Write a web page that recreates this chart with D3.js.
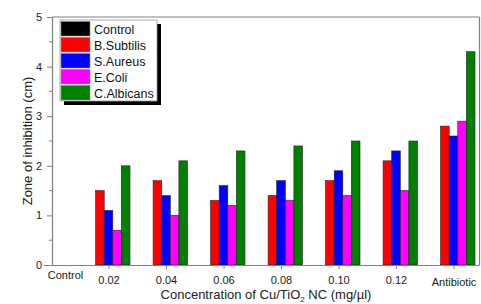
<!DOCTYPE html>
<html lang="en">
<head>
  <meta charset="UTF-8">
  <title>Zone of inhibition</title>
  <style>
    body { margin: 0; background: #fff; }
    text { font-family: Arial, "Liberation Sans", sans-serif; }
  </style>
</head>
<body>
  <svg id="svg" width="481" height="304"></svg>
  <script src="https://d3js.org/d3.v7.min.js"></script>
  <script>
    const categories = ['Control', '0.02', '0.04', '0.06', '0.08', '0.10', '0.12', 'Antibiotic']
    const seriesNames = ['Control', 'B.Subtilis', 'S.Aureus', 'E.Coli', 'C.Albicans']
    const colors = ['#000000', '#ff0000', '#0000ff', '#ff00ff', '#008000']

    const control = [0, 0, 0, 0, 0, 0, 0, 0]
    const bSubtilis = [0, 1.5, 1.7, 1.3, 1.4, 1.7, 2.1, 2.8]
    const sAureus = [0, 1.1, 1.4, 1.6, 1.7, 1.9, 2.3, 2.6]
    const eColi = [0, 0.7, 1.0, 1.2, 1.3, 1.4, 1.5, 2.9]
    const cAlbicans = [0, 2.0, 2.1, 2.3, 2.4, 2.5, 2.5, 4.3]
    const series = [control, bSubtilis, sAureus, eColi, cAlbicans]

    const yTicks = [0, 1, 2, 3, 4, 5]
    const yMinor = [0.5, 1.5, 2.5, 3.5, 4.5]

    const svg = d3.select('#svg')
    const plotL = 52, plotR = 479.5, plotT = 17, plotB = 265

    const xScale = d3.scaleLinear()
      .domain([0, 7])
      .range([51, 453.5])

    const yScale = d3.scaleLinear()
      .domain([0, 5])
      .range([plotB, plotT])

    const barW = 8.6

    // bars
    series.forEach((vals, j) => {
      svg.append('g')
        .selectAll('rect')
        .data(vals.map((v, i) => ({ v, i })).filter(d => d.v > 0))
        .enter()
        .append('rect')
        .attr('x', d => xScale(d.i) + (j - 2.5) * barW)
        .attr('y', d => yScale(d.v))
        .attr('width', barW)
        .attr('height', d => plotB - yScale(d.v))
        .attr('fill', colors[j])
        .attr('stroke', '#222')
        .attr('stroke-width', 0.6)
    })

    // frame
    const axisColor = '#808080'
    svg.append('line').attr('x1', plotL).attr('x2', plotR).attr('y1', plotT).attr('y2', plotT)
      .attr('stroke', axisColor).attr('stroke-width', 1.2)
    svg.append('line').attr('x1', plotR).attr('x2', plotR).attr('y1', plotT).attr('y2', plotB)
      .attr('stroke', axisColor).attr('stroke-width', 1.2)

    // y axis
    const yAxis = svg.append('g')
      .attr('transform', `translate(${plotL},0)`)
      .call(d3.axisLeft(yScale).tickValues(yTicks).tickFormat(d3.format('d')).tickSize(5).tickPadding(5))
    yAxis.selectAll('.tick').filter(d => d === 0).select('line').attr('x2', -8)
    svg.append('g')
      .attr('transform', `translate(${plotL},0)`)
      .selectAll('line')
      .data(yMinor)
      .enter()
      .append('line')
      .attr('x1', 0).attr('x2', -3)
      .attr('y1', d => yScale(d)).attr('y2', d => yScale(d))
      .attr('stroke', axisColor)

    // x axis
    const xAxis = svg.append('g')
      .attr('transform', `translate(0,${plotB})`)
      .call(d3.axisBottom(xScale).tickValues(d3.range(categories.length))
        .tickFormat(i => categories[i]).tickSize(4).tickPadding(6))
    xAxis.select('.domain').attr('d', `M${plotL - 8},0.5H${plotR}`)
    xAxis.selectAll('.tick').filter(i => i === 0).select('line').remove()
    xAxis.selectAll('.tick text')
      .attr('dx', i => i === 0 ? 14 : 0)
      .attr('dy', i => i === 0 ? '0.4em' : (i === 7 ? '1.0em' : '0.8em'))

    svg.selectAll('.domain').attr('stroke', axisColor).attr('stroke-width', 1.2)
    svg.selectAll('.tick line').attr('stroke', axisColor)
    svg.selectAll('.tick text').attr('font-size', 11).attr('fill', '#222')

    // axis titles
    svg.append('text')
      .attr('transform', `translate(32,${(plotT + plotB) / 2}) rotate(-90)`)
      .attr('text-anchor', 'middle')
      .attr('font-size', 13)
      .attr('fill', '#222')
      .text('Zone of inhibition (cm)')

    const xt = svg.append('text')
      .attr('x', 266)
      .attr('y', 299)
      .attr('text-anchor', 'middle')
      .attr('font-size', 13)
      .attr('fill', '#222')
    xt.append('tspan').text('Concentration of Cu/TiO')
    xt.append('tspan').attr('font-size', 8).attr('dy', 3).text('2')
    xt.append('tspan').attr('dy', -3).text(' NC (mg/µl)')

    // legend
    const lx = 60, ly = 20, lw = 97, lh = 81
    svg.append('rect').attr('x', lx + 4).attr('y', ly + 4).attr('width', lw).attr('height', lh).attr('fill', '#000')
    svg.append('rect').attr('x', lx).attr('y', ly).attr('width', lw).attr('height', lh)
      .attr('fill', '#fff').attr('stroke', '#999').attr('stroke-width', 0.8)
    const rowH = 16
    const legend = svg.append('g')
      .selectAll('g')
      .data(seriesNames)
      .enter()
      .append('g')
      .attr('transform', (d, i) => `translate(${lx + 1},${ly + 1.5 + i * rowH})`)
    legend.append('rect')
      .attr('width', 29).attr('height', rowH - 1.5)
      .attr('fill', (d, i) => colors[i])
      .attr('stroke', '#888').attr('stroke-width', 0.6)
    legend.append('text')
      .attr('x', 33).attr('y', rowH / 2 + 4.5)
      .attr('font-size', 12.5).attr('fill', '#111')
      .text(d => d)
  </script>
</body>
</html>
